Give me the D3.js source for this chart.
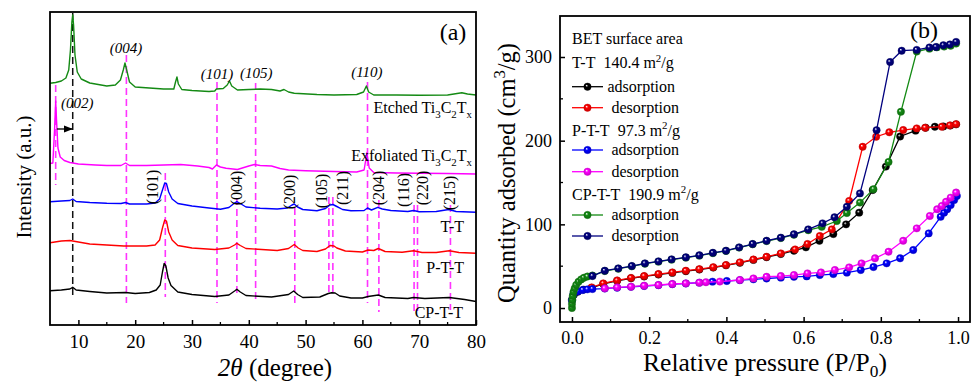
<!DOCTYPE html>
<html><head><meta charset="utf-8">
<script src="https://cdn.jsdelivr.net/npm/d3@7"></script>
<style>body{margin:0;background:#fff} svg text, svg tspan{font-family:"Liberation Serif","Times New Roman",serif !important;fill:#000}</style>
</head><body><svg id="c" width="972" height="384" font-family="Liberation Serif"></svg>
<script>
// ---------------- Panel (a) XRD data: [2theta, intensity (a.u.)] ----------------
const xrdEtched = [[5,241.7],[6,242.5],[7,244],[7.8,247],[8.3,255],[8.6,275],[8.85,303],[9.0,310],[9.15,300],[9.4,270],[9.8,253],[10.5,246],[12,242],[15,239],[16.5,240],[17.4,245],[17.9,255],[18.2,262],[18.5,255],[19,243],[20,238],[25,236],[26.8,236],[27.1,243],[27.35,248],[27.6,241],[28.2,235.5],[30,234.5],[33,233.5],[34.0,234],[34.3,236],[35.5,236.5],[36.2,240],[36.6,244],[37,239],[38,235],[40,235.5],[42,236],[44,235.5],[45.5,234],[46.2,235.5],[47,233],[48,231.7],[52,230.5],[55,230],[59,230.5],[60.2,233],[60.7,239],[61.1,233],[62,230],[66,230],[70,229.7],[75,230],[77.5,232.3],[78.5,231],[80,230]];
const xrdExfoliated = [[5,161.5],[5.5,162],[5.8,195],[6.0,224],[6.15,205],[6.4,177],[6.8,168],[7.5,164.5],[8.5,162.5],[10,161],[13,160],[15,159.5],[17.5,159.5],[18.3,162],[19,159.5],[22,159.5],[25,160],[28,160.5],[31,159],[33,157.5],[33.6,156],[34.3,160],[35,158],[36,156.7],[38,155.5],[40,159],[41,160.5],[42,159.5],[44,159],[45.5,156.5],[47,155],[50,154.3],[55,153.5],[59,153],[60.3,155],[60.8,172.5],[61.2,157],[62,152.5],[66,152],[70,151.7],[75,151.5],[80,151]];
const xrdTT = [[5,123.3],[7,124],[8.5,124.5],[9,126],[9.6,123.5],[12,122.5],[15,121.7],[17.5,121.5],[18.3,122.5],[19,121],[22,121],[23.5,122],[24.3,126],[24.8,135],[25.2,142],[25.5,141.5],[25.9,133],[26.5,126],[27.5,121.5],[30,119],[33,117],[35,115.7],[36.5,117.5],[37.5,122],[37.9,123.3],[38.5,121.5],[39.5,118],[42,116.7],[45,116],[46.8,117],[47.6,120],[48,121],[48.6,118],[49.5,115.5],[52,114.3],[53.5,116.5],[54.3,120],[54.8,120.5],[55.5,118.5],[56.5,115.5],[58,114.3],[60.3,114.5],[60.9,117],[61.6,115],[62.7,117.7],[63.5,116],[65,114.5],[68,113.5],[69,114.5],[70,113.3],[73,113.5],[75.2,115.5],[76.5,113.5],[80,112.7]];
const xrdPTT = [[5,82.3],[7,84],[8.5,84.5],[10,83],[12,81],[15,80],[18,79],[22,79],[23.5,80],[24.3,85],[24.8,97],[25.2,105],[25.5,104],[25.9,93],[26.5,85],[27.5,79.5],[30,77],[34,75.5],[36.5,77],[37.5,80],[37.9,81.7],[38.5,79.5],[39.5,76.5],[45,74.5],[47,76.5],[48,80.5],[48.7,77],[49.5,74.5],[52,73.5],[53.5,76],[54.3,79.5],[55,79],[55.5,77],[57,74],[60,73],[61,75],[62,74.5],[62.8,76.5],[64,73.5],[67,72.7],[69,74.3],[70.5,72.5],[73,72.5],[75.3,74.3],[77,72.5],[80,71.7]];
const xrdCPTT = [[5,34.3],[7,35],[8.5,36],[9,37.7],[9.6,35],[12,33.5],[15,32],[18.3,32.5],[20,31.5],[22.5,32.5],[23.7,35],[24.4,40],[24.8,53],[25.1,61.5],[25.4,59],[25.8,47],[26.3,39.5],[27.5,33],[30,30.5],[34,28.5],[36.5,30],[37.5,34],[37.9,35.7],[38.5,33],[39.5,29.5],[44,28],[47,30.5],[47.9,34],[48.6,30.5],[49.5,27.5],[52.5,28],[54,31.5],[54.6,32.3],[55.2,32],[56,29],[58,27],[60,27],[61,28.5],[62.8,30],[64,27.5],[68,26.5],[69,27.5],[71,26.5],[75.3,27.5],[78,25.5],[80,23.5]];
const xrdNames = ["Etched", "Exfoliated", "T-T", "P-T-T", "CP-T-T"];
const xrdColors = ["#148a14", "#ff00ff", "#0000ff", "#ff0000", "#000000"];

// reference reflections: [2theta, low, high]
const refMagenta = [[6.0,140,240],[18.45,22,270],[34.4,22,243],[41.2,22,242],[60.9,22,243],[25.3,28,152],[37.9,30,127],[48.1,18,117],[54.1,30,128],[54.8,30,128],[62.9,13,125],[69.1,12,120],[69.7,12,120],[75.5,15,120]];
const refBlack = [[9.0,30,312]];
// Ti3C2Tx reflections (italic)
const mxLabels = ["(004)","(101)","(105)","(110)","(002)"];
const mxPos = [[18.4,277],[34.4,251],[41.3,252],[60.8,253],[9.8,222]];
// TiO2 reflections (rotated)
const tiLabels = ["(101)","(004)","(200)","(105)","(211)","(204)","(116)","(220)","(215)"];
const tiPos = [[23.2,138],[37.9,137],[47.2,133],[52.9,134],[56.5,137],[62.9,137],[67.3,135],[70.6,137],[75.5,132]];
const xTicksA = [10,20,30,40,50,60,70,80];
const xMinorA = [15,25,35,45,55,65,75];

// ---------------- Panel (b) BET data: [P/P0, quantity (cm3/g)] ----------------
const ttAds = [[0.000,10],[0.005,16],[0.015,19.5],[0.030,22],[0.051,24],[0.081,28.8],[0.117,32.5],[0.153,35.5],[0.187,37.7],[0.224,40],[0.260,42],[0.295,44],[0.330,46],[0.366,48.3],[0.399,51],[0.435,54],[0.470,57.5],[0.504,60.7],[0.541,64.5],[0.575,68.5],[0.606,72.5],[0.641,80.4],[0.677,88.4],[0.710,100],[0.744,114],[0.779,141],[0.813,169],[0.850,205],[0.890,212],[0.916,215.5],[0.940,216.7],[0.962,217],[0.980,218],[0.995,219.5]];
const ttDes = [[0.051,24.7],[0.081,29.5],[0.117,33],[0.153,36],[0.187,38.2],[0.224,40.6],[0.260,42.6],[0.295,44.6],[0.330,46.5],[0.366,48.8],[0.399,51.4],[0.435,54.6],[0.470,58],[0.504,61.3],[0.541,65.3],[0.578,70],[0.610,76.5],[0.642,86],[0.673,94],[0.718,128],[0.753,192.7],[0.788,204.7],[0.822,210],[0.858,212.7],[0.893,214.7],[0.915,215.5],[0.958,216.7],[0.979,218.3],[0.995,219.8]];
const pttAds = [[0.000,9],[0.003,15.5],[0.016,20],[0.028,21.5],[0.040,22.3],[0.053,22.7],[0.085,23.3],[0.117,24.3],[0.153,25.3],[0.187,26.3],[0.224,27.3],[0.260,28.5],[0.295,29.3],[0.330,30.3],[0.364,31.5],[0.401,32.3],[0.435,33.3],[0.470,34.3],[0.504,35.3],[0.541,36.3],[0.575,37.3],[0.608,37.8],[0.642,39.4],[0.677,40.6],[0.712,42.3],[0.748,45.4],[0.781,49],[0.815,53.4],[0.850,59.4],[0.884,69.3],[0.924,89.2],[0.955,109],[0.964,114],[0.972,118],[0.981,123],[0.990,129],[0.997,134]];
const pttDes = [[0.085,23.5],[0.117,24.7],[0.153,25.5],[0.187,26.7],[0.224,27.5],[0.260,28.7],[0.295,29.5],[0.330,30.3],[0.347,30.8],[0.383,31.6],[0.435,33.5],[0.470,35.4],[0.504,37.4],[0.541,38.2],[0.575,39.4],[0.610,41.4],[0.645,42.6],[0.681,45.4],[0.718,48.6],[0.750,53.4],[0.785,59.4],[0.820,67.3],[0.858,80.4],[0.893,95.2],[0.927,110],[0.946,118],[0.958,122],[0.969,127],[0.981,132],[0.995,138]];
const cpAds = [[0.000,0],[0.000,4.8],[0.001,9.6],[0.002,14.3],[0.004,19.1],[0.007,23.5],[0.011,27.5],[0.017,31.4],[0.024,34.2],[0.031,36.2],[0.040,37.6],[0.053,38.8],[0.085,44.2],[0.120,47],[0.155,49.8],[0.189,53],[0.224,55.4],[0.258,57.8],[0.295,60.2],[0.330,62.6],[0.365,65.6],[0.399,68.2],[0.433,72.2],[0.468,76.2],[0.504,80],[0.541,83.6],[0.575,87.6],[0.612,93],[0.647,97],[0.686,104],[0.712,113.5],[0.746,126],[0.781,142],[0.820,174.5],[0.852,234.5],[0.893,306.5],[0.926,310],[0.945,311.5],[0.964,312.5],[0.981,313.5],[0.995,316]];
const cpDes = [[0.053,38.2],[0.085,44.6],[0.120,47.4],[0.155,50.2],[0.189,53.4],[0.224,55.8],[0.258,58.2],[0.295,60.6],[0.330,63],[0.365,66],[0.399,68.5],[0.433,72.5],[0.468,76.5],[0.504,80.4],[0.541,84.1],[0.575,88.1],[0.612,94],[0.649,101.2],[0.680,108.4],[0.712,121],[0.746,137],[0.789,212.5],[0.824,294],[0.854,307.5],[0.893,308.5],[0.926,311.4],[0.943,312],[0.962,314],[0.979,315],[0.995,318]];
const betSeries = [ttAds, ttDes, pttAds, pttDes, cpAds, cpDes];
const betColors = ["#000000", "#ff0000", "#0000ff", "#ff00ff", "#138a13", "#00007f"];
const betLegend = ["adsorption","desorption","adsorption","desorption","adsorption","desorption"];
const betSamples = ["T-T", "P-T-T", "CP-T-T"];
const betAreas = ["140.4", "97.3", "190.9"];
const xTicksB = [0,0.2,0.4,0.6,0.8,1.0];
const xMinorB = [0.1,0.3,0.5,0.7,0.9];
const yTicksB = [0,100,200,300];
const yMinorB = [50,150,250];

// ---------------- drawing ----------------
const FONT = '"Liberation Serif","Times New Roman",serif';
const svg = d3.select('#c');
svg.append('rect').attr('width',972).attr('height',384).attr('fill','#fff');
const defs = svg.append('defs');

function rich(sel, parts, fs, subK) {
  let shift = 0;
  const sk = subK || 0.32;
  parts.forEach(p => {
    const target = p[1] === 'sub' ? fs*sk : p[1] === 'sup' ? -fs*0.4 : 0;
    const ts = sel.append('tspan').attr('dy', target - shift).text(p[0]);
    if (p[1]) ts.attr('font-size', fs*0.68);
    shift = target;
  });
}

// ===== Panel (a) =====
const xA = d3.scaleLinear().domain([5,80]).range([50,476]);
const yA = d3.scaleLinear().domain([0,313]).range([325,12]);
const gA = svg.append('g');

gA.selectAll('line.rm').data(refMagenta).join('line')
  .attr('x1',d=>xA(d[0])).attr('x2',d=>xA(d[0]))
  .attr('y1',d=>yA(d[2])).attr('y2',d=>yA(d[1]))
  .attr('stroke','#ff33ff').attr('stroke-width',1.6).attr('stroke-dasharray','7,4');
gA.selectAll('line.rb').data(refBlack).join('line')
  .attr('x1',d=>xA(d[0])).attr('x2',d=>xA(d[0]))
  .attr('y1',d=>yA(d[2])).attr('y2',d=>yA(d[1]))
  .attr('stroke','#111').attr('stroke-width',1.5).attr('stroke-dasharray','7,4');

const lineA = d3.line().x(d=>xA(d[0])).y(d=>yA(d[1]));
[xrdEtched, xrdExfoliated, xrdTT, xrdPTT, xrdCPTT].forEach((s,i)=>{
  gA.append('path').attr('d', lineA(s)).attr('fill','none')
    .attr('stroke', xrdColors[i]).attr('stroke-width',1.4).attr('stroke-linejoin','round');
});

defs.append('marker').attr('id','arr').attr('viewBox','0 0 10 10').attr('refX',9).attr('refY',5)
  .attr('markerWidth',7).attr('markerHeight',7).attr('orient','auto')
  .append('path').attr('d','M0,1 L10,5 L0,9 z').attr('fill','#000');
gA.append('line').attr('x1',xA(6.2)).attr('x2',xA(8.9)).attr('y1',yA(196)).attr('y2',yA(196))
  .attr('stroke','#000').attr('stroke-width',1.3).attr('marker-end','url(#arr)');

mxLabels.forEach((t,i)=>{
  gA.append('text').attr('x',xA(mxPos[i][0])).attr('y',yA(mxPos[i][1])+5)
    .attr('text-anchor','middle').attr('font-size',15).attr('font-style','italic').text(t);
});
tiLabels.forEach((t,i)=>{
  gA.append('text').attr('transform',`translate(${xA(tiPos[i][0])+5},${yA(tiPos[i][1])}) rotate(-90)`)
    .attr('text-anchor','middle').attr('font-size',16).text(t);
});
const sl1 = gA.append('text').attr('x',472).attr('y',113).attr('text-anchor','end').attr('font-size',16);
rich(sl1, [["Etched Ti"],["3",'sub'],["C"],["2",'sub'],["T"],["x",'sub']], 16);
const sl2 = gA.append('text').attr('x',472).attr('y',161).attr('text-anchor','end').attr('font-size',16);
rich(sl2, [["Exfoliated Ti"],["3",'sub'],["C"],["2",'sub'],["T"],["x",'sub']], 16);
gA.append('text').attr('x',464).attr('y',232).attr('text-anchor','end').attr('font-size',16).text(xrdNames[2]);
gA.append('text').attr('x',464).attr('y',273).attr('text-anchor','end').attr('font-size',16).text(xrdNames[3]);
gA.append('text').attr('x',463).attr('y',318).attr('text-anchor','end').attr('font-size',16).text(xrdNames[4]);

gA.append('rect').attr('x',50).attr('y',12).attr('width',426).attr('height',313)
  .attr('fill','none').attr('stroke','#000').attr('stroke-width',1.8);
const axA = gA.append('g').attr('transform','translate(0,325)')
  .call(d3.axisBottom(xA).tickValues(xTicksA).tickSize(-5).tickPadding(10).tickFormat(d3.format('d')));
axA.attr('font-family', FONT);
axA.select('.domain').remove();
axA.selectAll('line').attr('stroke-width',1.5);
axA.selectAll('text').attr('font-size',19);
gA.selectAll('line.mnA').data(xMinorA).join('line')
  .attr('x1',d=>xA(d)).attr('x2',d=>xA(d)).attr('y1',325).attr('y2',322)
  .attr('stroke','#000').attr('stroke-width',1.3);
const xtA = gA.append('text').attr('x',275).attr('y',376).attr('text-anchor','middle').attr('font-size',25);
xtA.append('tspan').attr('font-style','italic').text('2θ');
xtA.append('tspan').text(' (degree)');
gA.append('text').attr('transform','translate(31,177) rotate(-90)').attr('text-anchor','middle')
  .attr('font-size',21).text('Intensity (a.u.)');
gA.append('text').attr('x',453).attr('y',40).attr('text-anchor','middle').attr('font-size',24).text('(a)');

// ===== Panel (b) =====
const xB = d3.scaleLinear().domain([-0.031,1.031]).range([560,970]);
const yB = d3.scaleLinear().domain([-16.7,349]).range([322,16]);
const gB = svg.append('g');

betColors.forEach((c,i)=>{
  const g = defs.append('radialGradient').attr('id','sph'+i).attr('cx','50%').attr('cy','50%').attr('r','55%')
    .attr('fx','35%').attr('fy','32%');
  g.append('stop').attr('offset','0%').attr('stop-color','#fff');
  g.append('stop').attr('offset','35%').attr('stop-color',c);
  g.append('stop').attr('offset','100%').attr('stop-color',d3.color(c).darker(0.8));
});

const lineB = d3.line().x(d=>xB(d[0])).y(d=>yB(d[1]));
betSeries.forEach((s,i)=>{
  const g = gB.append('g');
  g.append('path').attr('d',lineB(s)).attr('fill','none').attr('stroke',betColors[i]).attr('stroke-width',1.3);
  g.selectAll('circle').data(s).join('circle')
    .attr('cx',d=>xB(d[0])).attr('cy',d=>yB(d[1])).attr('r',3.7)
    .attr('fill',`url(#sph${i})`).attr('stroke',d3.color(betColors[i]).darker(0.5)).attr('stroke-width',0.4);
});

const lg = gB.append('g');
lg.append('text').attr('x',572).attr('y',44).attr('font-size',16).text('BET surface area');
const headerY = [68, 135.5, 199.5];
const itemY = [86.7, 107.7, 150, 171.7, 215, 236];
betSamples.forEach((s,k)=>{
  const t = lg.append('text').attr('x',572).attr('y',headerY[k]).attr('font-size',16);
  rich(t, [[s + '\u00a0 ' + betAreas[k] + ' m'],['2','sup'],['/g']], 16);
});
betLegend.forEach((l,i)=>{
  const y = itemY[i];
  lg.append('line').attr('x1',572).attr('x2',603).attr('y1',y).attr('y2',y).attr('stroke',betColors[i]).attr('stroke-width',1.3);
  lg.append('circle').attr('cx',587.5).attr('cy',y).attr('r',3.7).attr('fill',`url(#sph${i})`)
    .attr('stroke',d3.color(betColors[i]).darker(0.5)).attr('stroke-width',0.4);
  lg.append('text').attr('x', i===0?607.5:611.5).attr('y',y+5).attr('font-size',16).text(l);
});

gB.append('rect').attr('x',560).attr('y',16).attr('width',410).attr('height',306)
  .attr('fill','none').attr('stroke','#000').attr('stroke-width',1.8);
const axBx = gB.append('g').attr('transform','translate(0,322)')
  .call(d3.axisBottom(xB).tickValues(xTicksB).tickSize(-5).tickPadding(9).tickFormat(d3.format('.1f')));
axBx.select('.domain').remove();
const axBy = gB.append('g').attr('transform','translate(560,0)')
  .call(d3.axisLeft(yB).tickValues(yTicksB).tickSize(-5).tickPadding(8).tickFormat(d3.format('d')));
axBy.select('.domain').remove();
[axBx, axBy].forEach(a=>{
  a.attr('font-family', FONT);
  a.selectAll('line').attr('stroke-width',1.5);
  a.selectAll('text').attr('font-size',18);
});
gB.selectAll('line.mnBx').data(xMinorB).join('line')
  .attr('x1',d=>xB(d)).attr('x2',d=>xB(d)).attr('y1',322).attr('y2',319)
  .attr('stroke','#000').attr('stroke-width',1.3);
gB.selectAll('line.mnBy').data(yMinorB).join('line')
  .attr('x1',560).attr('x2',563).attr('y1',d=>yB(d)).attr('y2',d=>yB(d))
  .attr('stroke','#000').attr('stroke-width',1.3);

const xtB = gB.append('text').attr('x',765).attr('y',371).attr('text-anchor','middle').attr('font-size',25.5);
rich(xtB, [['Relative pressure (P/P'],['0','sub'],[')']], 25.5, 0.22);
const ytB = gB.append('text').attr('transform','translate(515,173) rotate(-90)').attr('text-anchor','middle').attr('font-size',24.5);
rich(ytB, [['Quantity adsorbed (cm'],['3','sup'],['/g)']], 24.5);
gB.append('text').attr('x',924).attr('y',38).attr('text-anchor','middle').attr('font-size',24).text('(b)');

svg.selectAll('text, tspan').style('font-family', FONT);
</script></body></html>
